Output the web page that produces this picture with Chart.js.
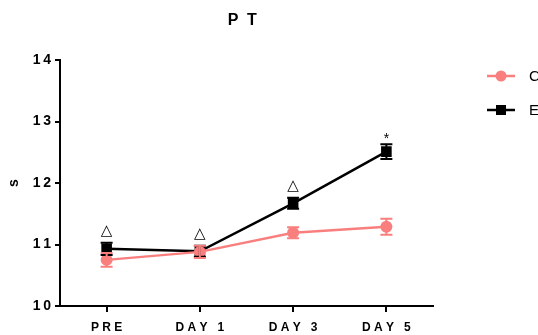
<!DOCTYPE html>
<html>
<head>
<meta charset="utf-8">
<script src="https://cdn.jsdelivr.net/npm/chart.js@4"></script>
<style>
  html, body { margin: 0; padding: 0; background: #fff; overflow: hidden; }
</style>
</head>
<body>
<canvas id="myChart" width="538" height="335"></canvas>
<script>
'use strict';
// chart data
let days = ['PRE', 'DAY 1', 'DAY 3', 'DAY 5'];
let controlMeans = [10.75, 10.88, 11.19, 11.29];
let controlErr = [0.11, 0.1, 0.09, 0.13];
let exerciseMeans = [10.93, 10.89, 11.67, 12.51];
let exerciseErr = [0.1, 0.09, 0.09, 0.12];
let exerciseMarks = ['△', '△', '△', '*'];
let yTicks = [10, 11, 12, 13, 14];

let pink = '#f97f7f';
let fontName = '"Liberation Sans", Arial, sans-serif';

// error bars + significance marks
let errorBars = {
  id: 'errorBars',
  afterDatasetsDraw(chart) {
    let ctx = chart.ctx;
    let yScale = chart.scales.y;
    let errs = [controlErr, exerciseErr];
    // draw exercise first so control sits on top like the points do
    for (let d = chart.data.datasets.length - 1; d >= 0; d--) {
      let ds = chart.data.datasets[d];
      let meta = chart.getDatasetMeta(d);
      ctx.save();
      ctx.strokeStyle = ds.borderColor;
      ctx.lineWidth = 2;
      meta.data.forEach(function(pt, i) {
        let top = yScale.getPixelForValue(ds.data[i] + errs[d][i]);
        let bot = yScale.getPixelForValue(ds.data[i] - errs[d][i]);
        ctx.beginPath();
        ctx.moveTo(pt.x, top); ctx.lineTo(pt.x, bot);
        ctx.moveTo(pt.x - 6, top); ctx.lineTo(pt.x + 6, top);
        ctx.moveTo(pt.x - 6, bot); ctx.lineTo(pt.x + 6, bot);
        ctx.stroke();
      });
      ctx.restore();
    }
    // marks over the exercise group
    let meta = chart.getDatasetMeta(1);
    ctx.save();
    ctx.fillStyle = '#000';
    ctx.textAlign = 'center';
    ctx.textBaseline = 'middle';
    meta.data.forEach(function(pt, i) {
      let top = yScale.getPixelForValue(exerciseMeans[i] + exerciseErr[i]);
      if (exerciseMarks[i] === '*') {
        ctx.font = '14px ' + fontName;
        ctx.fillText('*', pt.x, top - 5);
      } else {
        ctx.font = '15px "DejaVu Sans", sans-serif';
        ctx.fillText(exerciseMarks[i], pt.x, top - 12);
      }
    });
    ctx.restore();
  }
};

// title, y title and legend drawn by hand
let decorations = {
  id: 'decorations',
  afterDraw(chart) {
    let ctx = chart.ctx;
    ctx.save();
    ctx.fillStyle = '#000';
    ctx.textAlign = 'center';
    ctx.textBaseline = 'middle';
    ctx.font = 'bold 16px ' + fontName;
    ctx.fillText('P', 233, 21);
    ctx.fillText('T', 252, 21);

    ctx.save();
    ctx.translate(14, 183);
    ctx.rotate(-Math.PI / 2);
    ctx.font = 'bold 14px ' + fontName;
    ctx.fillText('s', 0, 0);
    ctx.restore();

    // legend
    ctx.lineWidth = 2.5;
    ctx.strokeStyle = pink;
    ctx.beginPath(); ctx.moveTo(487, 76); ctx.lineTo(515, 76); ctx.stroke();
    ctx.fillStyle = pink;
    ctx.beginPath(); ctx.arc(501, 76, 5.5, 0, Math.PI * 2); ctx.fill();
    ctx.strokeStyle = '#000';
    ctx.beginPath(); ctx.moveTo(487, 110); ctx.lineTo(515, 110); ctx.stroke();
    ctx.fillStyle = '#000';
    ctx.fillRect(496, 105, 10, 10);
    ctx.textAlign = 'left';
    ctx.font = '15px ' + fontName;
    ctx.fillText('Control', 529, 77);
    ctx.fillText('Exercise', 529, 111);
    ctx.restore();
  }
};

let ctx = document.getElementById('myChart');
let myChart = new Chart(ctx, {
  type: 'line',
  data: {
    labels: days,
    datasets: [{
      label: 'Control',
      data: controlMeans,
      borderColor: pink,
      backgroundColor: pink,
      borderWidth: 2.5,
      pointStyle: 'circle',
      pointRadius: 6,
      pointBorderWidth: 0
    },
    {
      label: 'Exercise',
      data: exerciseMeans,
      borderColor: '#000',
      backgroundColor: '#000',
      borderWidth: 2.5,
      pointStyle: 'rect',
      pointRadius: 7.5,
      pointBorderWidth: 0
    }]
  },
  options: {
    responsive: false,
    animation: false,
    layout: { padding: { top: 60, right: 105, left: 0, bottom: 0 } },
    plugins: {
      legend: { display: false },
      title: { display: false },
      tooltip: { enabled: false }
    },
    scales: {
      x: {
        offset: true,
        afterFit: function(scale) { scale.height = 29; },
        border: { display: true, color: '#000', width: 2 },
        grid: { display: true, drawOnChartArea: false, color: '#000', lineWidth: 2, tickLength: 6, offset: false },
        ticks: {
          color: '#000',
          padding: 8,
          maxRotation: 0,
          font: { family: fontName, size: 12, weight: 'bold' },
          callback: function(v, i) { return days[i].split('').join(' '); }
        }
      },
      y: {
        min: yTicks[0],
        max: yTicks[yTicks.length - 1],
        afterFit: function(scale) { scale.width = 60; },
        afterBuildTicks: function(scale) { scale.ticks = yTicks.map(function(v) { return { value: v }; }); },
        border: { display: true, color: '#000', width: 2 },
        grid: { display: true, drawOnChartArea: false, color: '#000', lineWidth: 2, tickLength: 5 },
        ticks: {
          color: '#000',
          padding: 4,
          font: { family: fontName, size: 14, weight: 'bold' },
          callback: function(v) { return String(v).split('').join('\u2009'); }
        }
      }
    }
  },
  plugins: [errorBars, decorations]
});
</script>
</body>
</html>
